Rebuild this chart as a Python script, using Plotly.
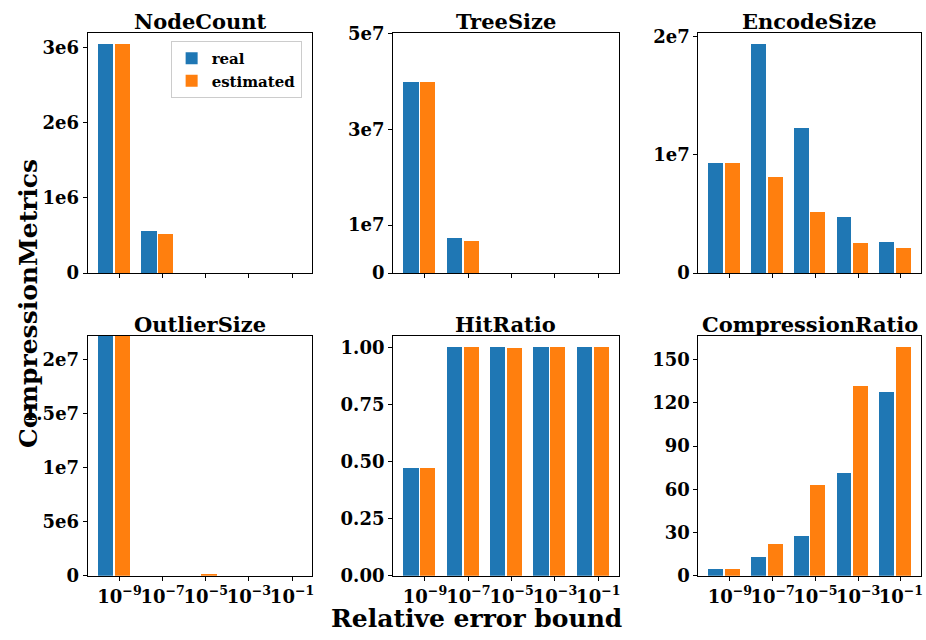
import plotly.graph_objects as go

# ---------------- data ----------------
eb_labels = ["10<sup>−9</sup>", "10<sup>−7</sup>", "10<sup>−5</sup>", "10<sup>−3</sup>", "10<sup>−1</sup>"]
series_names = ["real", "estimated"]
panel_titles = ["NodeCount", "TreeSize", "EncodeSize", "OutlierSize", "HitRatio", "CompressionRatio"]

node_real = [3.04e6, 0.555e6, 0, 0, 0]
node_est = [3.04e6, 0.520e6, 0, 0, 0]
tree_real = [3.97e7, 0.73e7, 0, 0, 0]
tree_est = [3.97e7, 0.67e7, 0, 0, 0]
encode_real = [0.925e7, 1.932e7, 1.228e7, 0.475e7, 0.262e7]
encode_est = [0.925e7, 0.810e7, 0.516e7, 0.254e7, 0.213e7]
outlier_real = [2.4e7, 0, 0, 0, 0]
outlier_est = [2.4e7, 0, 1.8e5, 0, 0]
hit_real = [0.471, 1.0, 1.0, 1.0, 1.0]
hit_est = [0.471, 1.0, 0.997, 1.0, 1.0]
cr_real = [4.7, 12.8, 27.5, 71.2, 127.6]
cr_est = [4.7, 22.2, 63.1, 131.6, 158.5]

tick_vals = [
    [0, 1e6, 2e6, 3e6],
    [0, 1e7, 3e7, 5e7],
    [0, 1e7, 2e7],
    [0, 5e6, 1e7, 1.5e7, 2e7],
    [0, 0.25, 0.5, 0.75, 1.0],
    [0, 30, 60, 90, 120, 150],
]
tick_text = [
    ["0", "1e6", "2e6", "3e6"],
    ["0", "1e7", "3e7", "5e7"],
    ["0", "1e7", "2e7"],
    ["0", "5e6", "1e7", "1.5e7", "2e7"],
    ["0.00", "0.25", "0.50", "0.75", "1.00"],
    ["0", "30", "60", "90", "120", "150"],
]
y_tops = [
    max(node_real + node_est) * 1.05,
    5e7,
    max(encode_real + encode_est) * 1.05,
    2.22e7,
    max(hit_real + hit_est) * 1.05,
    max(cr_real + cr_est) * 1.05,
]
panels = [
    (node_real, node_est),
    (tree_real, tree_est),
    (encode_real, encode_est),
    (outlier_real, outlier_est),
    (hit_real, hit_est),
    (cr_real, cr_est),
]

# ---------------- layout / style ----------------
W, H = 926, 640
BLUE, ORANGE = "#1f77b4", "#ff7f0e"
FONT = "DejaVu Serif"
col_px = [(88, 313), (394, 620), (700, 923)]
row_px = [(23, 271), (336, 584)]
bar_w = 0.35
offsets = [-0.32, 0.07]
xs = list(range(len(eb_labels)))

def bold(s):
    return "<b>" + s + "</b>"

fig = go.Figure()
layout = dict(
    width=W, height=H, margin=dict(l=0, r=0, t=0, b=0),
    plot_bgcolor="white", paper_bgcolor="white",
    barmode="overlay", bargap=0,
    font=dict(family=FONT, color="black"),
    showlegend=True,
    legend=dict(
        x=171 / W, y=1 - 31 / H, xanchor="left", yanchor="top",
        bgcolor="white", bordercolor="#cccccc", borderwidth=1,
        font=dict(family=FONT, size=15, color="black"),
        itemsizing="constant", tracegroupgap=0,
    ),
)
annotations = []

for k, (real, est) in enumerate(panels):
    r, c = divmod(k, 3)
    idx = "" if k == 0 else str(k + 1)
    xa, ya = "x" + idx, "y" + idx
    for s, (vals, color) in enumerate(((real, BLUE), (est, ORANGE))):
        fig.add_trace(go.Bar(
            x=[x + offsets[s] for x in xs], y=vals, width=bar_w,
            marker=dict(color=color, line=dict(width=0)),
            name=bold(series_names[s]), showlegend=(k == 0),
            xaxis=xa, yaxis=ya,
        ))
    x0, x1 = col_px[c]
    y0, y1 = row_px[r]
    axis_common = dict(
        showline=True, linecolor="black", linewidth=1.2, mirror=True,
        ticks="outside", ticklen=4, tickwidth=1, tickcolor="black",
        showgrid=False, zeroline=False,
        tickfont=dict(family=FONT, size=18, color="black"),
    )
    layout["xaxis" + idx] = dict(
        axis_common, domain=[x0 / W, x1 / W], anchor=ya,
        range=[-0.735, 4.47], tickmode="array", tickvals=xs,
        ticktext=[bold(t) for t in eb_labels], showticklabels=(r == 1),
        tickangle=0, tickfont=dict(family=FONT, size=18, color="black"),
    )
    layout["yaxis" + idx] = dict(
        axis_common, domain=[1 - y1 / H, 1 - y0 / H], anchor=xa,
        range=[0, y_tops[k]], tickmode="array",
        tickvals=tick_vals[k], ticktext=[bold(t) for t in tick_text[k]],
    )
    annotations.append(dict(
        text=bold(panel_titles[k]), xref="paper", yref="paper",
        x=(x0 + x1) / 2 / W, y=1 - y0 / H, xanchor="center", yanchor="bottom",
        yshift=-3, showarrow=False, font=dict(family=FONT, size=21, color="black"),
    ))

annotations.append(dict(
    text=bold("Relative error bound"), xref="paper", yref="paper",
    x=478 / W, y=1 - 628 / H, xanchor="center", yanchor="middle",
    showarrow=False, font=dict(family=FONT, size=25, color="black"),
))
annotations.append(dict(
    text=bold("CompressionMetrics"), xref="paper", yref="paper",
    x=28 / W, y=1 - 302 / H, xanchor="center", yanchor="middle", textangle=-90,
    showarrow=False, font=dict(family=FONT, size=25, color="black"),
))
layout["annotations"] = annotations
fig.update_layout(**layout)
fig.write_html("out.html")
